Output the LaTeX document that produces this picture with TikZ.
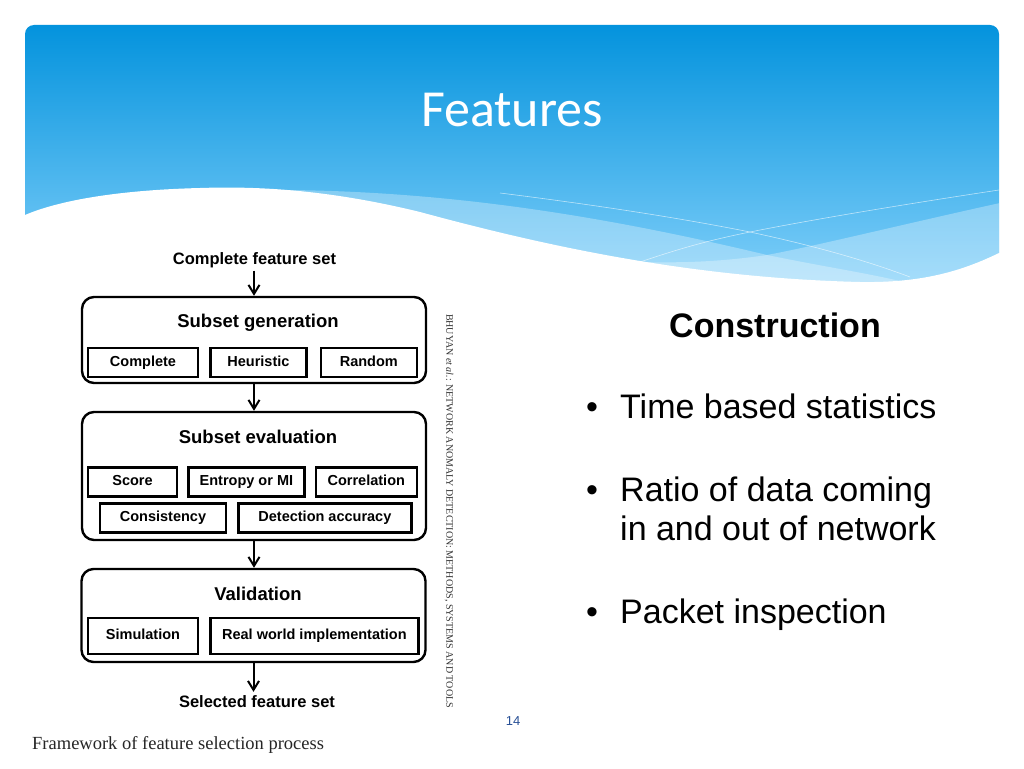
\documentclass[tikz,border=0pt]{standalone}
\usepackage{fontspec}
\setmainfont{Liberation Sans}
\newfontfamily\titlefont{Carlito}
\newfontfamily\notefont{Liberation Serif}
\usetikzlibrary{arrows.meta,positioning}
\definecolor{cielo}{RGB}{4,147,221}
\definecolor{cielobajo}{RGB}{130,208,250}
\definecolor{numpag}{RGB}{40,80,150}
\newcommand{\tam}[1]{\fontsize{#1}{#1}\selectfont}

\begin{document}
\begin{tikzpicture}[x=1pt,y=-1pt,
etapa/.style={draw,line width=2.4pt,rounded corners=12pt,minimum width=344pt,inner sep=0pt},
metodo/.style={draw,line width=2.4pt,minimum height=29pt,inner sep=0pt,text height=10.5pt,text depth=3pt,font=\tam{14.5}\bfseries},
titulo/.style={anchor=base,font=\tam{18.5}\bfseries,inner sep=2pt},
conjunto/.style={anchor=base,font=\tam{16.5}\bfseries,inner sep=3pt},
arr/.style={-{Straight Barb[length=9pt,width=11pt]},line width=2pt},
vineta/.style={anchor=base west,font=\tam{34},inner sep=0pt}
]
\useasboundingbox (0,0) rectangle (1024,768);
\fill[white] (0,0) rectangle (1024,768);

% cabecera
\begin{scope}
\clip[rounded corners=9pt] (25,25) rectangle (999,300);
\shade[top color=cielo,bottom color=cielobajo] (25,25) rectangle (999,290);
\fill[white,opacity=0.3] (290,190) .. controls (450,192) and (600,215) .. (767,255) .. controls (830,268) and (880,275) .. (915,285) -- (915,300) -- (290,300) -- cycle;
\fill[white,opacity=0.3] (1000,203) .. controls (900,225) and (820,245) .. (767,255) .. controls (720,262) and (680,263) .. (640,262) -- (640,300) -- (1000,300) -- cycle;
\draw[white,opacity=0.6,line width=0.6pt] (500,193) .. controls (620,208) and (700,222) .. (750,232) .. controls (820,247) and (870,262) .. (910,277);
\draw[white,opacity=0.6,line width=0.6pt] (999,190) .. controls (900,205) and (810,220) .. (750,232) .. controls (700,242) and (670,252) .. (640,262);
\end{scope}
\fill[white] (1004,253) -- (999,253) .. controls (960,272) and (920,283) .. (860,282)
  .. controls (700,278) and (560,250) .. (420,212)
  .. controls (330,190) and (260,186) .. (200,188)
  .. controls (120,190) and (60,200) .. (25,215) -- (20,215) -- (20,305) -- (1004,305) -- cycle;
\node[font=\titlefont\tam{52},text=white] (titulo) at (512,110) {Features};

% diagrama
\node[conjunto] (completo) at (254.5,264) {Complete feature set};
\node[etapa,minimum height=86pt] (gen) at (254,340) {};
\node[titulo] (gentit) at (258,327) {Subset generation};
\node[metodo,minimum width=110pt] (g1) at (143,362.5) {Complete};
\node[metodo,minimum width=96pt,right=10pt of g1] (g2) {Heuristic};
\node[metodo,minimum width=96pt,right=12pt of g2] (g3) {Random};

\node[etapa,minimum height=128pt] (eva) at (254,476) {};
\node[titulo] (evatit) at (258,443) {Subset evaluation};
\node[metodo,minimum width=89pt] (e1) at (132.5,482) {Score};
\node[metodo,minimum width=116pt,right=9pt of e1] (e2) {Entropy or MI};
\node[metodo,minimum width=101pt,right=9pt of e2] (e3) {Correlation};
\node[metodo,minimum width=126pt] (e4) at (163,518) {Consistency};
\node[metodo,minimum width=173pt,right=10pt of e4] (e5) {Detection accuracy};

\node[etapa,minimum height=93pt] (val) at (253.5,615.5) {};
\node[titulo] (valtit) at (258,600) {Validation};
\node[metodo,minimum width=110pt,minimum height=36pt] (v1) at (143,636) {Simulation};
\node[metodo,minimum width=208pt,minimum height=36pt,right=10pt of v1] (v2) {Real world implementation};
\node[conjunto] (seleccion) at (257,707) {Selected feature set};

\draw[arr] (gen.north |- completo.south) -- (gen.north);
\draw[arr] (gen.south) -- (eva.north);
\draw[arr] (eva.south) -- (eva.south |- val.north);
\draw[arr] (val.south) -- (val.south |- seleccion.north);

\node[rotate=-90,font=\notefont\tam{10},text=black!80] (fuente) at (449,511) {BHUYAN \textit{et al.}: NETWORK ANOMALY DETECTION: METHODS, SYSTEMS AND TOOLS};
\node[anchor=base west,font=\notefont\tam{18.5},text=black!85,inner sep=0pt] (pie) at (32,749) {Framework of feature selection process};
\node[font=\tam{13},text=numpag] (pagina) at (513,721) {14};

% texto derecho
\node[anchor=base,font=\tam{34}\bfseries] (constr) at (775,337) {Construction};
\node[vineta] (p1) at (586,418) {\textbullet};
\node[vineta] (t1) at (620,418) {Time based statistics};
\node[vineta] (p2) at (586,501) {\textbullet};
\node[vineta] (t2) at (620,501) {Ratio of data coming};
\node[vineta] (t2b) at (620,540) {in and out of network};
\node[vineta] (p3) at (586,623) {\textbullet};
\node[vineta] (t3) at (620,623) {Packet inspection};
\end{tikzpicture}
\end{document}
